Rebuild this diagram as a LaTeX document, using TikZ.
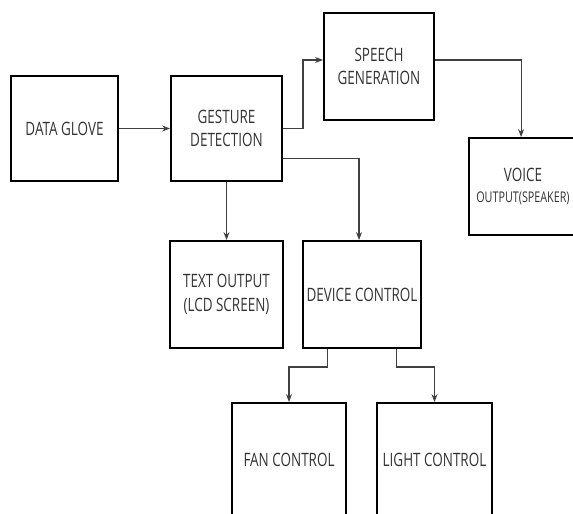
\documentclass[tikz,border=0pt]{standalone}
\usepackage{fontspec}
\setmainfont{Open Sans}[FakeStretch=0.73]
\usetikzlibrary{arrows.meta}

\begin{document}
\begin{tikzpicture}[x=0.02cm, y=-0.02cm, >=Stealth,
    font=\fontsize{10.5}{13.4}\selectfont,
    blk/.style={draw=black, line width=1.1pt, text=black!80,
        align=center, inner sep=0pt},
    conn/.style={->, black!75, line width=0.6pt,
        -{Stealth[length=4.5pt,width=3.4pt]}}]

% ── canvas (reference frame, boxes run off the edge) ──
\useasboundingbox (0,0) rectangle (573,513);
\clip (0,0) rectangle (573,513);

% ════════════════════════════════════════════════
%  TOP ROW
% ════════════════════════════════════════════════
\node[blk, minimum width=107*0.02cm, minimum height=105*0.02cm]
    (glove) at (64.5,128.5) {DATA GLOVE};
\node[blk, minimum width=111*0.02cm, minimum height=105*0.02cm]
    (gesture) at (226.5,128.5) {GESTURE\\DETECTION};
\node[blk, minimum width=110*0.02cm, minimum height=107*0.02cm]
    (speech) at (379,66.5) {SPEECH\\GENERATION};
\node[blk, minimum width=108*0.02cm, minimum height=97*0.02cm]
    (voice) at (523,186.5)
    {VOICE\\[-1.5pt]{\fontsize{8.4}{11}\selectfont OUTPUT(SPEAKER)}};

% ════════════════════════════════════════════════
%  MIDDLE + BOTTOM ROW
% ════════════════════════════════════════════════
\node[blk, minimum width=113*0.02cm, minimum height=107*0.02cm]
    (lcd) at (226.5,294.5) {TEXT OUTPUT\\(LCD SCREEN)};
\node[blk, minimum width=118*0.02cm, minimum height=107*0.02cm]
    (device) at (362,294.5) {DEVICE CONTROL};
\node[blk, minimum width=114*0.02cm, minimum height=114*0.02cm]
    (fan) at (289,460) {FAN CONTROL};
\node[blk, minimum width=115*0.02cm, minimum height=114*0.02cm]
    (light) at (434.5,460) {LIGHT CONTROL};

% ════════════════════════════════════════════════
%  Connectors
% ════════════════════════════════════════════════
\draw[conn] (glove) -- (gesture);
\draw[conn] (gesture.east) -- ++(20,0) |- ([yshift=3.7pt]speech.west);
\draw[conn] ([yshift=3.7pt]speech.east) -| ([xshift=-1.1pt]voice.north);
\draw[conn] ([yshift=-17pt]gesture.east) -| ([xshift=-1.7pt]device.north);
\draw[conn] (gesture) -- (lcd);
\draw[conn] ([xshift=-19.8pt]device.south) -- ++(0,18) -| (fan.north);
\draw[conn] ([xshift=19.8pt]device.south) -- ++(0,18) -| (light.north);

\end{tikzpicture}
\end{document}
